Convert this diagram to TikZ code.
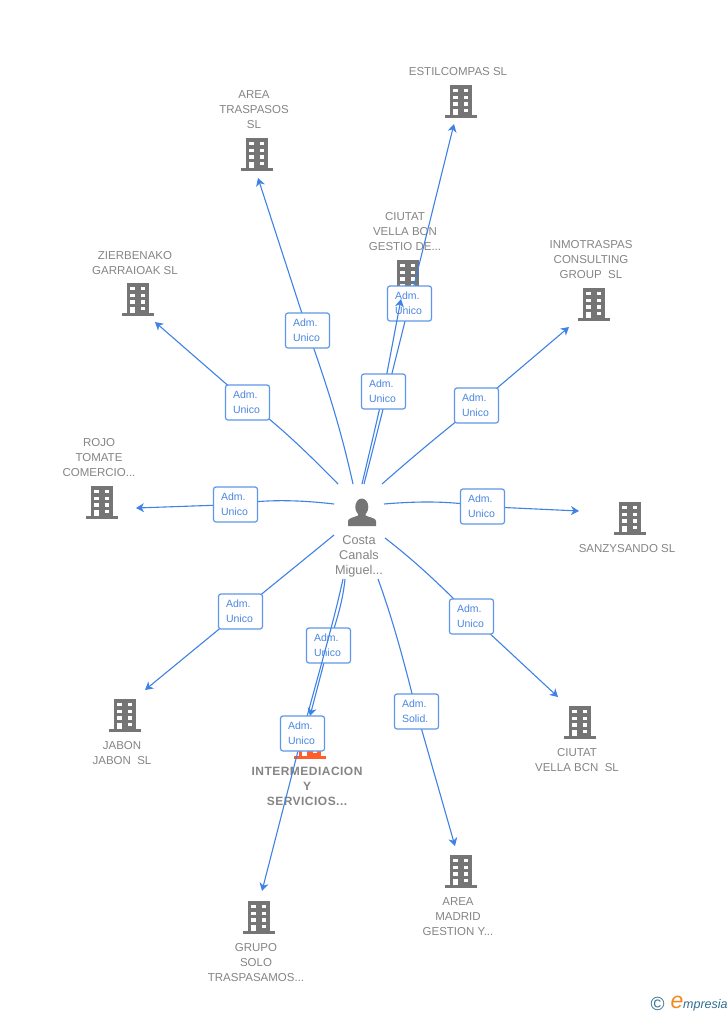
\documentclass[tikz,border=0pt]{standalone}
\usepackage{fontspec}
\setmainfont{Liberation Sans}
\usetikzlibrary{arrows.meta}
\definecolor{edgeblue}{HTML}{3F82E6}
\definecolor{boxblue}{HTML}{5F97E8}
\definecolor{txtblue}{HTML}{4A86E0}
\definecolor{iconcol}{HTML}{757575}
\definecolor{lblgray}{HTML}{858585}
\definecolor{orangeb}{HTML}{FF5E2B}
\definecolor{wmteal}{HTML}{2F6F8F}
\definecolor{wmorange}{HTML}{F28A1E}
\tikzset{
  x=1pt,y=-1pt,
  pics/bldg/.style={code={
    \fill[#1] (-11,-17) rectangle (11,14);
    \fill[#1] (-16,13) rectangle (16,16);
    \foreach \yy/\hh in {-13.5/3.5,-6.5/3.5,0/3.5,6.5/3.5}{
      \fill[white] (-7.5,\yy) rectangle ++(4.5,\hh);
      \fill[white] (3,\yy) rectangle ++(4.5,\hh);
    }
    \fill[white] (-7.5,6.5) rectangle ++(4.5,6.5);
  }},
  lbl/.style={font=\fontsize{11.5}{15}\selectfont,text=lblgray,align=center,inner sep=0pt},
  boldlbl/.style={font=\fontsize{12}{15}\selectfont\bfseries\addfontfeature{LetterSpace=4},text=lblgray,align=center,inner sep=0pt},
  edge/.style={draw=edgeblue,line width=1.1pt,-{Stealth[length=8pt,width=9pt,inset=2.5pt]}},
  rolebox/.style={draw=boxblue,line width=1.2pt,fill=white,rounded corners=2.5pt,minimum width=44pt,minimum height=35pt,inner sep=0pt,text=txtblue,align=left,font=\fontsize{10.5}{15}\selectfont},
}
\newcommand{\rolenode}[3]{\node[rolebox] (#1) at (#2) {\parbox{29pt}{#3}};}
\begin{document}
\begin{tikzpicture}
\useasboundingbox (0,0) rectangle (728,1015);
\fill[white] (0,0) rectangle (728,1015);

% buildings
\pic at (460.5,102) {bldg=iconcol};
\pic at (256.5,155) {bldg=iconcol};
\pic at (407.5,277) {bldg=iconcol};
\pic at (593.5,305) {bldg=iconcol};
\pic at (137.5,300) {bldg=iconcol};
\pic at (101.5,503) {bldg=iconcol};
\pic at (629.5,519) {bldg=iconcol};
\pic at (124.5,716) {bldg=iconcol};
\pic at (309.5,743) {bldg=orangeb};
\pic at (579.5,723) {bldg=iconcol};
\pic at (460.5,872) {bldg=iconcol};
\pic at (258.5,918) {bldg=iconcol};

% person
\fill[iconcol] (361.8,507) ellipse (6.5 and 8.5);
\fill[iconcol] (348,526) -- (348,521) .. controls (348,518) and (354,517.5) .. (358,515.5) -- (358,512) -- (365.5,512) -- (365.5,515.5) .. controls (369.5,517.5) and (376,518) .. (376,521) -- (376,526) -- cycle;

% labels
\node[lbl] (n1) at (458,72) {ESTILCOMPAS SL};
\node[lbl] (n2) at (254,110) {AREA\\TRASPASOS\\SL};
\node[lbl] (n3) at (405,232) {CIUTAT\\VELLA BON\\GESTIO DE...};
\node[lbl] (n4) at (591,260) {INMOTRASPAS\\CONSULTING\\GROUP\ \ SL};
\node[lbl] (n5) at (135,263) {ZIERBENAKO\\GARRAIOAK SL};
\node[lbl] (n6) at (99,458) {ROJO\\TOMATE\\COMERCIO...};
\node[lbl] (n7) at (627,549) {SANZYSANDO SL};
\node[lbl] (n8) at (122,753) {JABON\\JABON\ \ SL};
\node[boldlbl] (n9) at (307,786) {INTERMEDIACION\\Y\\SERVICIOS...};
\node[lbl] (n10) at (577,760) {CIUTAT\\VELLA BCN\ \ SL};
\node[lbl] (n11) at (458,917) {AREA\\MADRID\\GESTION Y...};
\node[lbl] (n12) at (256,963) {GRUPO\\SOLO\\TRASPASAMOS...};
\node[lbl,font=\fontsize{12.7}{15}\selectfont] (person) at (359,556) {Costa\\Canals\\Miguel...};

% connector ends
\coordinate (s1) at (338,484);  \coordinate (t1) at (155,322);
\coordinate (s2) at (353,484);  \coordinate (t2) at (258,178);
\coordinate (s3) at (364,484);  \coordinate (t3) at (454,124);
\coordinate (s4) at (362,484);  \coordinate (t4) at (401,299);
\coordinate (s5) at (382,484);  \coordinate (t5) at (569,327);
\coordinate (s6) at (334,504);  \coordinate (t6) at (136,508);
\coordinate (s7) at (384,504);  \coordinate (t7) at (579,511);
\coordinate (s8) at (334,535);  \coordinate (t8) at (145,690);
\coordinate (s9) at (345,579);  \coordinate (t9) at (310,716);
\coordinate (s10) at (343,579); \coordinate (t10) at (262,891);
\coordinate (s11) at (378,579); \coordinate (t11) at (455,846);
\coordinate (s12) at (385,538); \coordinate (t12) at (558,697);

% connectors, each followed by its own label box
\draw[edge] (s1) .. controls (300,445) and (270,418) .. (247.5,402.5) -- (t1);
\rolenode{b1}{247.5,402.5}{Adm.\\Unico}
\draw[edge] (s2) .. controls (340,425) and (325,380) .. (307.5,330.5) -- (t2);
\rolenode{b2}{307.5,330.5}{Adm.\\Unico}
\draw[edge] (s3) .. controls (378,430) and (394,365) .. (409.5,303.5) -- (t3);
\rolenode{b3}{409.5,303.5}{Adm.\\Unico}
\draw[edge] (s4) .. controls (370,450) and (376,425) .. (383.5,391.5) -- (t4);
\rolenode{b4}{383.5,391.5}{Adm.\\Unico}
\draw[edge] (s5) .. controls (415,455) and (445,430) .. (476.5,405.5) -- (t5);
\rolenode{b5}{476.5,405.5}{Adm.\\Unico}
\draw[edge] (s6) .. controls (300,500) and (265,499) .. (235.5,504.5) -- (t6);
\rolenode{b6}{235.5,504.5}{Adm.\\Unico}
\draw[edge] (s7) .. controls (420,501) and (450,501) .. (482.5,506.5) -- (t7);
\rolenode{b7}{482.5,506.5}{Adm.\\Unico}
\draw[edge] (s8) .. controls (300,563) and (270,587) .. (240.5,611.5) -- (t8);
\rolenode{b8}{240.5,611.5}{Adm.\\Unico}
\draw[edge] (s9) .. controls (343,600) and (337,620) .. (328.5,645.5) -- (t9);
\rolenode{b9}{328.5,645.5}{Adm.\\Unico}
\draw[edge] (s10) .. controls (333,625) and (318,675) .. (302.5,733.5) -- (t10);
\rolenode{b10}{302.5,733.5}{Adm.\\Unico}
\draw[edge] (s11) .. controls (393,620) and (405,665) .. (416.5,711.5) -- (t11);
\rolenode{b11}{416.5,711.5}{Adm.\\Solid.}
\draw[edge] (s12) .. controls (420,565) and (445,590) .. (471.5,616.5) -- (t12);
\rolenode{b12}{471.5,616.5}{Adm.\\Unico}

% watermark
\node[text=wmteal,inner sep=0pt,font=\fontsize{19}{19}\selectfont] (wm1) at (657.5,1004) {©};
\node[text=wmorange,inner sep=0pt,font=\itshape\fontsize{23}{23}\selectfont] (wm2) at (677,1002) {e};
\node[text=wmteal,inner sep=0pt,anchor=west,font=\itshape\fontsize{12.5}{14}\selectfont] (wm3) at (683,1005) {mpresia};
\end{tikzpicture}
\end{document}
